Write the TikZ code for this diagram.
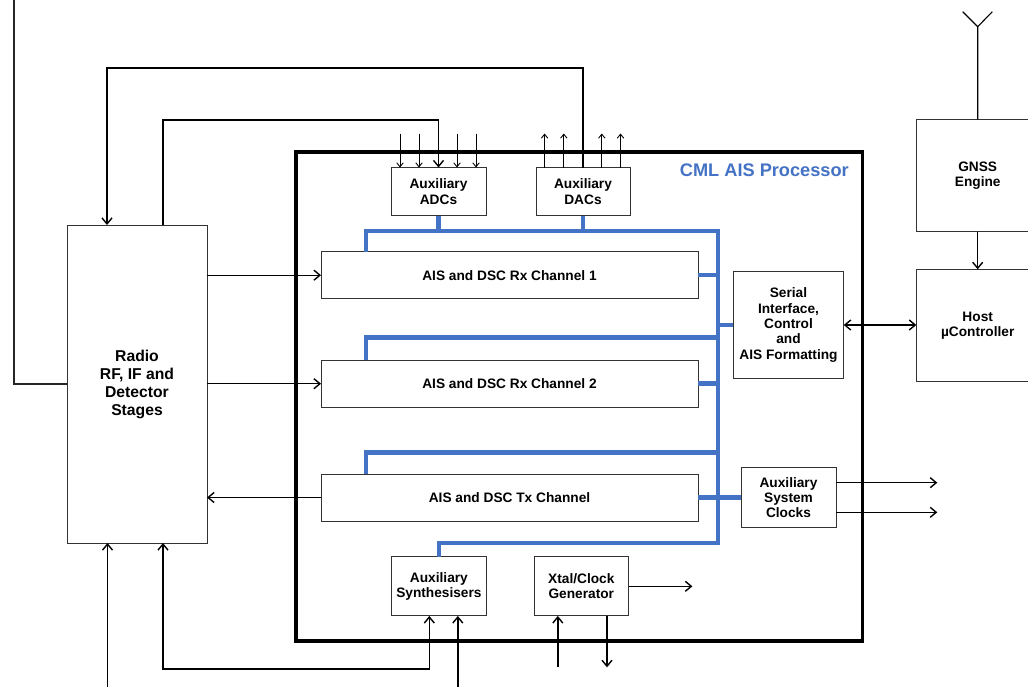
\documentclass[tikz,border=0pt]{standalone}
\usepackage{fontspec}
\setmainfont{Liberation Sans}
\usetikzlibrary{arrows.meta,calc}
\definecolor{busblue}{RGB}{68,114,196}
\begin{document}
\begin{tikzpicture}[x=1pt,y=-1pt,
  box/.style={draw=black!80, line width=1pt, fill=white, inner sep=0pt, outer sep=0pt, align=center, font=\fontsize{13.7}{15.4}\selectfont\bfseries},
  conn/.style={line width=1.4pt, black},
  sml/.style={line width=0.9pt, black},
  smltip/.style={-{Straight Barb[length=4pt,width=6.5pt]}},
  bus/.style={line width=4.5pt, busblue},
  >={Straight Barb[length=6pt,width=10pt]}]
\useasboundingbox (0,0) rectangle (1028,686);
\clip (0,0) rectangle (1028,686);
\fill[white] (0,0) rectangle (1028,686);

% container
\node[draw, line width=3.5pt, minimum width=566.7pt, minimum height=489pt, inner sep=0pt, outer sep=0pt] (cml) at (579.35,396.5) {};
\node[anchor=east, text=busblue, font=\fontsize{18.2}{20}\selectfont\bfseries, inner sep=0pt] (title) at (849,170) {CML AIS Processor};

% blocks
\node[box, minimum width=140pt, minimum height=318pt, font=\fontsize{15.7}{18}\selectfont\bfseries] (radio) at (137,384) {Radio\\RF, IF and\\Detector\\Stages};
\node[box, minimum width=95pt, minimum height=48pt] (adc) at (438.5,191.5) {Auxiliary\\ADCs};
\node[box, minimum width=94pt, minimum height=48pt] (dac) at (583,191.5) {Auxiliary\\DACs};
\node[box, minimum width=377pt, minimum height=47pt] (rx1) at (509.5,275.2) {AIS and DSC Rx Channel 1};
\node[box, minimum width=377pt, minimum height=47pt] (rx2) at (509.5,383.7) {AIS and DSC Rx Channel 2};
\node[box, minimum width=377pt, minimum height=47pt] (tx) at (509.5,497.5) {AIS and DSC Tx Channel};
\node[box, minimum width=110.4pt, minimum height=106.6pt] (serial) at (788.5,325) {Serial\\Interface,\\Control\\and\\AIS Formatting};
\node[box, minimum width=95pt, minimum height=59.6pt] (clocks) at (788.5,497.5) {Auxiliary\\System\\Clocks};
\node[box, minimum width=94.6pt, minimum height=59.3pt] (synth) at (438.9,586.3) {Auxiliary\\Synthesisers};
\node[box, minimum width=94.6pt, minimum height=59.3pt] (xtal) at (581.3,586.3) {Xtal/Clock\\Generator};
\node[box, minimum width=122.8pt, minimum height=112.4pt] (gnss) at (977.7,175.5) {GNSS\\Engine};
\node[box, minimum width=122.8pt, minimum height=112.4pt] (host) at (977.7,325.5) {Host\\µController};

% bus
\coordinate (busTR) at (718,231);
\coordinate (busBR) at (718,543);
\coordinate (busR2) at (718,337.3);
\coordinate (busT) at (718,452.7);
\draw[bus] ([xshift=45pt]rx1.north west) |- (busTR) -- (busBR) -| (synth.north);
\draw[bus] ([xshift=45pt]rx2.north west) |- (busR2);
\draw[bus] ([xshift=45pt]tx.north west) |- (busT);
\draw[bus] (adc.south) -- (adc.south |- busTR);
\draw[bus] (dac.south) -- (dac.south |- busTR);
\draw[bus] (rx1.east) -- (rx1.east -| busTR);
\draw[bus] (rx2.east) -- (rx2.east -| busTR);
\draw[bus] (serial.west) -- (serial.west -| busTR);
\draw[bus] (tx.east) -- (clocks.west);

% radio connections
\draw[conn,->] (radio.east |- rx1.west) -- (rx1.west);
\draw[conn,->] (radio.east |- rx2.west) -- (rx2.west);
\draw[conn,->] (tx.west) -- (tx.west -| radio.east);
\coordinate (ltop) at (14,-2);
\draw[line width=1.2pt, black!85] (radio.west) -| (ltop);
\coordinate (loopA) at (107,68);
\draw[conn,->] (dac.north) |- (loopA) -- (loopA |- radio.north);
\coordinate (loopB) at (163,120);
\draw[conn,->] (loopB |- radio.north) -- (loopB) -| (adc.north);

% ADC inputs, DAC outputs
\foreach \dx in {-38.5,-19.5,18.5,37.5}
  \draw[sml,smltip] ([xshift=\dx pt]adc.north) ++(0,-34) -- ([xshift=\dx pt]adc.north);
\foreach \dx in {-38.4,-19.2,18.8,37.5}
  \draw[sml,smltip] ([xshift=\dx pt]dac.north) -- ++(0,-34);

% right side
\draw[conn,<->] (serial.east) -- (serial.east -| host.west);
\draw[conn,->] (gnss.south) -- (host.north);
\coordinate (ant) at (977.7,26.7);
\coordinate (antL) at (962.7,11.7);
\coordinate (antR) at (992.3,11.7);
\draw[line width=1.1pt] (gnss.north) -- (ant) -- (antL);
\draw[line width=1.1pt] (ant) -- (antR);
\coordinate (clk1) at (937.3,482.7);
\coordinate (clk2) at (937.3,512.3);
\draw[conn,->] (clocks.east |- clk1) -- (clk1);
\draw[conn,->] (clocks.east |- clk2) -- (clk2);

% bottom
\coordinate (xo) at (692.4,586.3);
\draw[conn,->] (xtal.east) -- (xo);
\coordinate (xin) at (557.8,667);
\draw[conn,->] (xin) -- (xin |- xtal.south);
\coordinate (xout) at (607,667.3);
\draw[conn,->] (xout |- xtal.south) -- (xout);
\coordinate (sl) at (163,669);
\coordinate (s1) at (429.3,669);
\draw[conn,<->] (sl |- radio.south) -- (sl) -- (s1) -- (s1 |- synth.south);
\coordinate (s2) at (457.8,692);
\draw[conn,->] (s2) -- (s2 |- synth.south);
\coordinate (r2) at (107.5,692);
\draw[conn,->] (r2) -- (r2 |- radio.south);
\end{tikzpicture}
\end{document}
